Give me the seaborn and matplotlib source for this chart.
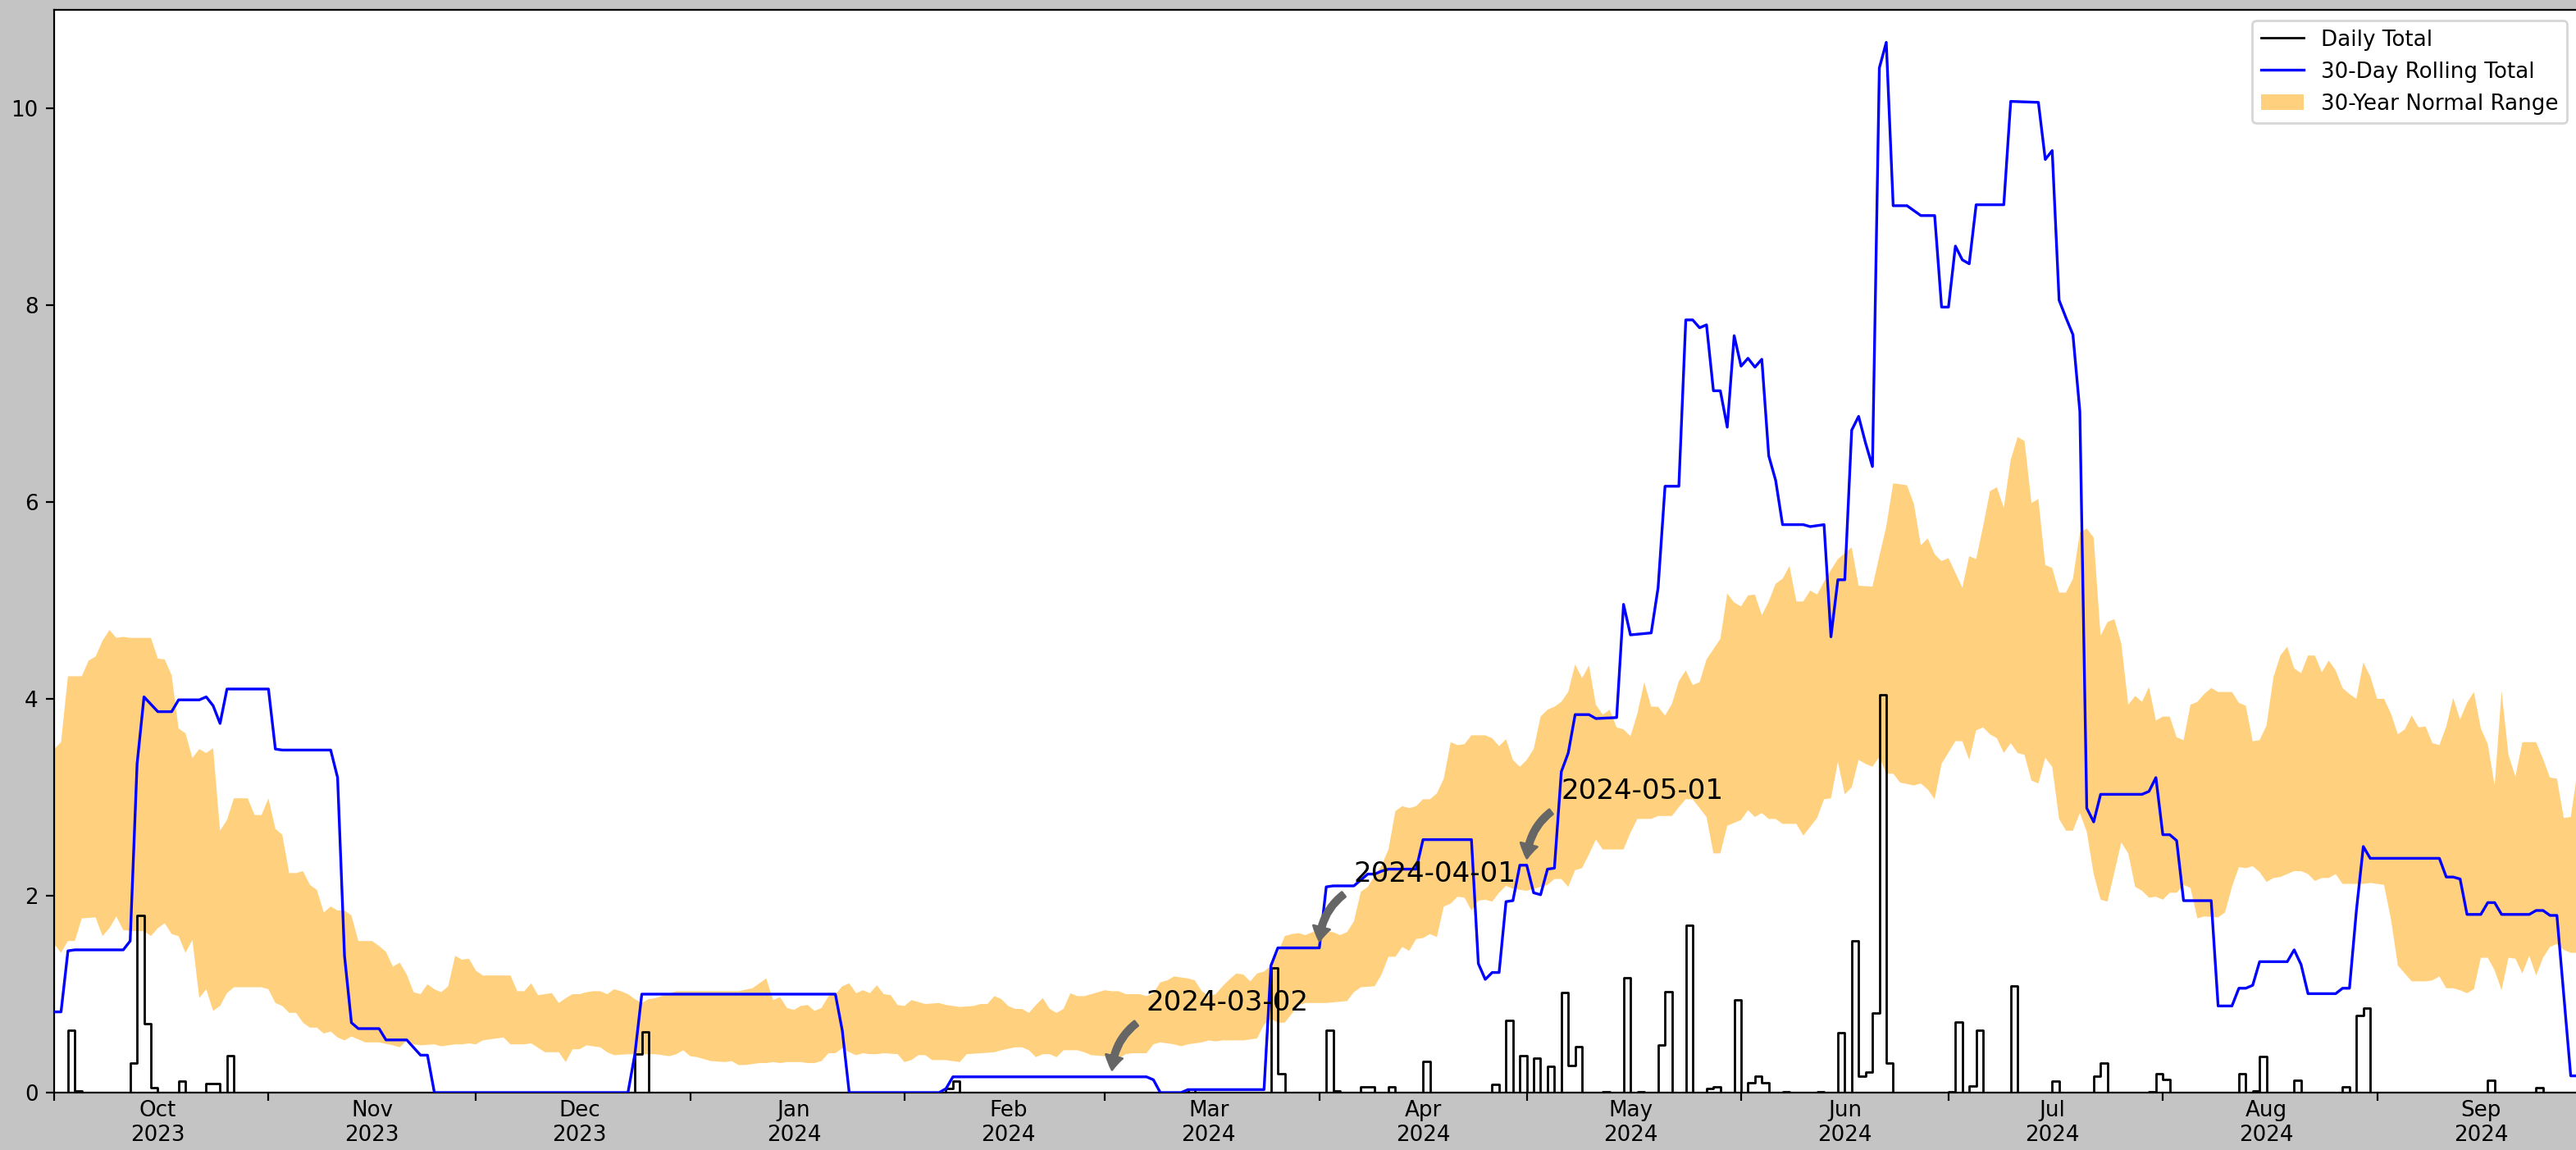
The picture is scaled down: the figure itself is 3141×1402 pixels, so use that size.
import numpy as np
import pandas as pd
import matplotlib
matplotlib.use("Agg")
import matplotlib.pyplot as plt
import matplotlib.dates as mdates
import seaborn as sns

# ---------------- data (days counted from 2023-10-01) ----------------
START = "2023-10-01"
END = "2024-09-30"

# daily precipitation on wet days
rain_day = [2, 3, 11, 12, 13, 14, 18, 22, 23, 25, 84, 85, 129, 130, 164, 176, 177,
            184, 185, 189, 190, 193, 198, 208, 210, 212, 214, 216, 218, 219, 220, 224,
            227, 229, 232, 233, 236, 239, 240, 243, 245, 246, 247, 250, 255, 258, 260,
            261, 262, 263, 264, 265, 274, 275, 277, 278, 283, 289, 295, 296, 303, 304,
            305, 316, 318, 319, 324, 331, 333, 334, 352, 359]
rain_amt = [0.63, 0.02, 0.30, 1.80, 0.70, 0.05, 0.12, 0.09, 0.09, 0.375, 0.39, 0.62,
            0.04, 0.12, 0.03, 1.265, 0.19,
            0.633, 0.02, 0.06, 0.06, 0.06, 0.318, 0.08, 0.73, 0.373, 0.346, 0.263, 1.02,
            0.274, 0.467, 0.01,
            1.163, 0.01, 0.484, 1.025, 1.698, 0.04, 0.06, 0.945, 0.10, 0.17, 0.10, 0.01,
            0.01, 0.609, 1.54,
            0.17, 0.21, 0.805, 4.04, 0.30, 0.01, 0.72, 0.07, 0.63, 1.08, 0.12, 0.17, 0.30,
            0.01, 0.19,
            0.13, 0.19, 0.02, 0.366, 0.124, 0.06, 0.786, 0.855, 0.124, 0.046]

# 30-day rolling total (change points)
roll_day = [0, 1, 2, 3, 10, 11, 12, 13, 15, 17, 18, 21, 22, 23, 24, 25, 31, 32, 33, 40,
            41, 42, 43, 44, 47, 48, 51, 53, 54, 55, 83, 84, 85, 113, 114, 115, 128, 129,
            130, 158, 159, 160, 163, 164, 175, 176, 177, 183, 184, 185, 188, 190, 191,
            192, 193, 197, 198, 205, 206, 207, 208, 209, 210, 211, 212, 213, 214, 215,
            216, 217, 218, 219, 220, 222, 223, 226, 227, 228, 231, 232, 233, 235, 236,
            237, 238, 239, 240, 241, 242, 243, 244, 245, 246, 247, 248, 249, 250, 253,
            254, 256, 257, 258, 259, 260, 261, 262, 263, 264, 265, 266, 268, 269, 270,
            272, 273, 274, 275, 276, 277, 278, 282, 283, 287, 288, 289, 290, 291, 292,
            293, 294, 295, 296, 302, 303, 304, 305, 306, 307, 308, 312, 313, 315, 316,
            317, 318, 319, 323, 324, 325, 326, 330, 331, 332, 333, 334, 335, 345, 346,
            347, 348, 349, 351, 352, 353, 354, 358, 359, 360, 361, 362, 363, 364, 365]
roll_val = [0.82, 0.82, 1.44, 1.45, 1.45, 1.54, 3.34, 4.02, 3.87, 3.87, 3.99, 3.99, 4.02,
            3.93, 3.75, 4.10, 4.10, 3.49, 3.48, 3.48,
            3.20, 1.39, 0.71, 0.65, 0.65, 0.535, 0.535, 0.38, 0.38, 0.0, 0.0, 0.39, 1.0,
            1.0, 0.63, 0.0, 0.0, 0.04,
            0.16, 0.16, 0.13, 0.0, 0.0, 0.03, 0.03, 1.29, 1.47, 1.47, 2.09, 2.10, 2.10,
            2.22, 2.22,
            2.25, 2.27, 2.27, 2.57, 2.57, 1.31, 1.15, 1.22, 1.22, 1.94, 1.95, 2.31, 2.31,
            2.03, 2.01,
            2.27, 2.28, 3.26, 3.45, 3.84, 3.84, 3.80, 3.81, 4.96, 4.65, 4.67, 5.13, 6.16,
            6.16, 7.85,
            7.85, 7.77, 7.80, 7.13, 7.13, 6.76, 7.69, 7.38, 7.46, 7.37, 7.45, 6.47, 6.22,
            5.77, 5.77,
            5.75, 5.77, 4.63, 5.21, 5.21, 6.73, 6.87, 6.60, 6.36, 10.41, 10.67, 9.01, 9.01,
            8.96, 8.91,
            8.91, 7.98, 7.98, 8.60, 8.46, 8.42, 9.02, 9.02, 10.07, 10.06, 9.48, 9.57, 8.05,
            7.87, 7.70,
            6.92, 2.89, 2.75, 3.03, 3.03, 3.06, 3.20, 2.62, 2.62, 2.56, 1.95, 1.95, 0.88,
            0.88, 1.06,
            1.06, 1.09, 1.33, 1.33, 1.45, 1.30, 1.005, 1.005, 1.06, 1.06, 1.85, 2.50, 2.38,
            2.38, 2.19,
            2.19, 2.17, 1.81, 1.81, 1.93, 1.93, 1.81, 1.81, 1.85, 1.85, 1.80, 1.80, 0.98,
            0.17, 0.17]

# 30-year normal range: upper edge
up_day = [0, 1, 2, 4, 5, 6, 7, 8, 9, 10, 11, 14, 15, 16, 17, 18, 19, 20, 21, 22, 23, 24,
          25, 26, 28, 29, 30, 31, 32, 33, 34, 35, 36, 37, 38, 39, 40, 41, 42, 43, 44, 46,
          47, 48, 49, 50, 51, 52, 53, 54, 55, 56, 57, 58, 59, 60, 61, 62, 66, 67, 68, 69,
          70, 71, 72, 73, 74, 75, 76, 77, 78, 79, 80, 81, 82, 83, 84, 85, 86, 87, 90, 97,
          99, 101, 102, 103, 104, 105, 106, 107, 108, 109, 110, 111, 112, 113, 114, 115,
          116, 117, 118, 119, 120, 121, 122, 123, 124, 126, 128, 129, 131, 133, 134, 135,
          136, 137, 138, 139, 140, 141, 142, 143, 144, 145, 146, 147, 148, 149, 150, 152,
          153, 154, 155, 157, 158, 159, 160, 161, 162, 163, 164, 165, 166, 167, 168, 169,
          170, 171, 172, 173, 174, 175, 176, 177, 178, 179, 180, 181, 182, 183, 185, 186,
          187, 188, 189, 190, 191, 192, 193, 194, 195, 196, 197, 198, 199, 200, 201, 202,
          203, 204, 205, 207, 208, 209, 210, 211, 212, 213, 214, 215, 216, 217, 218, 219,
          220, 221, 222, 223, 224, 225, 226, 227, 228, 229, 230, 231, 232, 233, 234, 235,
          236, 237, 238, 239, 241, 242, 243, 244, 245, 246, 247, 248, 249, 250, 251, 252,
          253, 254, 255, 256, 257, 258, 260, 261, 263, 264, 265, 266, 268, 269, 270, 271,
          272, 273, 274, 275, 276, 277, 278, 279, 280, 281, 282, 283, 284, 285, 286, 287,
          288, 289, 290, 291, 292, 293, 294, 295, 296, 297, 298, 299, 300, 301, 302, 303,
          304, 305, 306, 307, 308, 309, 310, 311, 312, 313, 315, 316, 317, 318, 319, 320,
          321, 322, 323, 324, 325, 326, 327, 328, 329, 330, 331, 332, 333, 334, 335, 336,
          337, 338, 339, 340, 341, 342, 343, 344, 345, 346, 347, 348, 349, 350, 351, 352,
          353, 354, 355, 356, 357, 359, 360, 361, 362, 363, 364, 365]
up_val = [3.49, 3.56, 4.23, 4.23, 4.39, 4.43, 4.59, 4.70, 4.62, 4.63, 4.62, 4.62, 4.41,
          4.40, 4.24, 3.70, 3.65, 3.40, 3.49, 3.45, 3.50, 2.66,
          2.77, 2.99, 2.99, 2.82, 2.82, 2.99, 2.68, 2.62, 2.23, 2.23, 2.25, 2.11, 2.06,
          1.83, 1.89, 1.85, 1.85, 1.80, 1.54, 1.54,
          1.49, 1.43, 1.28, 1.32, 1.20, 1.02, 1.00, 1.10, 1.05, 1.02, 1.08, 1.39, 1.35,
          1.36, 1.24, 1.19, 1.19, 1.03, 1.03, 1.11,
          0.99, 1.00, 1.01, 0.91, 0.96, 1.00, 1.00, 1.02, 1.03, 1.03, 1.00, 1.05, 1.03,
          1.00, 0.95, 0.91, 0.95, 0.96, 1.03, 1.03,
          1.03, 1.06, 1.11, 1.16, 0.94, 0.97, 0.86, 0.84, 0.88, 0.89, 0.83, 0.86, 0.98,
          1.00, 1.08, 1.11,
          1.01, 1.04, 1.01, 1.09, 1.00, 0.99, 0.89, 0.88, 0.94, 0.90, 0.91, 0.89, 0.87,
          0.88, 0.90, 0.90,
          0.98, 0.95, 0.88, 0.85, 0.85, 0.81, 0.89, 0.96, 0.85, 0.81, 0.85, 1.01, 0.98,
          0.98, 1.00, 1.04,
          1.03, 1.03, 1.00, 1.00, 0.98, 1.01, 1.12, 1.14, 1.18, 1.17, 1.16, 1.14, 1.03,
          0.98, 1.00, 1.08,
          1.15, 1.21, 1.20, 1.13, 1.21, 1.23, 1.29, 1.42, 1.59, 1.61, 1.62, 1.60, 1.63,
          1.64, 1.63, 1.60,
          1.63, 1.74, 2.04, 2.09, 2.20, 2.31, 2.47, 2.86, 2.91, 2.89, 2.91, 2.98, 2.98,
          3.04, 3.19, 3.56,
          3.53, 3.54, 3.63, 3.63, 3.60, 3.52, 3.59, 3.38, 3.31, 3.38, 3.49, 3.82, 3.89,
          3.92, 3.97, 4.07,
          4.35, 4.21, 4.34, 3.94, 3.84, 3.89, 3.71, 3.69, 3.62, 3.85, 4.17, 3.92, 3.92,
          3.83, 3.95, 4.18,
          4.29, 4.14, 4.17, 4.40, 4.61, 5.07, 4.98, 4.94, 5.05, 5.06, 4.85, 4.99, 5.17,
          5.22, 5.35, 4.99,
          4.99, 5.10, 5.06, 5.19, 5.31, 5.42, 5.54, 5.15, 5.14, 5.45, 5.75, 6.19, 6.17,
          5.98, 5.56, 5.63,
          5.47, 5.40, 5.43, 5.28, 5.13, 5.45, 5.42, 5.75, 6.11, 6.15, 5.94, 6.43, 6.66,
          6.62, 5.99, 6.03,
          5.36, 5.33, 5.08, 5.08, 5.22, 5.69, 5.73, 5.64, 4.64, 4.78, 4.81, 4.56, 3.94,
          4.03, 3.97, 4.12,
          3.78, 3.82, 3.82, 3.61, 3.58, 3.94, 3.97, 4.05, 4.11, 4.07, 4.07, 3.96, 3.93,
          3.57, 3.58, 3.73,
          4.22, 4.44, 4.53, 4.31, 4.26, 4.44, 4.44, 4.27, 4.39, 4.29, 4.11, 4.05, 4.00,
          4.37, 4.23, 4.00,
          4.00, 3.85, 3.64, 3.69, 3.83, 3.71, 3.72, 3.55, 3.53, 3.72, 4.01, 3.79, 3.96,
          4.07, 3.70, 3.54,
          3.12, 4.08, 3.43, 3.21, 3.56, 3.56, 3.39, 3.20, 3.19, 2.79, 2.80, 3.27]

# 30-year normal range: lower edge
lo_day = [0, 1, 2, 3, 4, 6, 7, 8, 9, 10, 12, 13, 14, 15, 16, 17, 18, 19, 20, 21, 22, 23,
          24, 25, 26, 30, 31, 32, 33, 34, 35, 36, 37, 38, 39, 40, 41, 42, 43, 44, 45, 47,
          49, 50, 51, 52, 53, 55, 56, 58, 59, 60, 61, 62, 63, 65, 66, 68, 69, 71, 73, 74,
          75, 76, 77, 79, 80, 81, 83, 87, 89, 90, 91, 92, 93, 95, 97, 98, 99, 100, 102,
          103, 104, 105, 106, 108, 109, 110, 111, 112, 113, 114, 115, 116, 117, 118, 119,
          120, 122, 123, 124, 125, 126, 127, 129, 131, 132, 136, 137, 139, 140, 141, 142,
          143, 144, 145, 146, 148, 149, 150, 152, 154, 155, 156, 158, 159, 160, 162, 163,
          164, 166, 167, 168, 169, 172, 173, 174, 175, 176, 177, 178, 179, 180, 181, 183,
          184, 187, 188, 189, 191, 192, 193, 194, 195, 196, 197, 198, 199, 200, 201, 202,
          203, 204, 205, 206, 207, 208, 209, 210, 211, 213, 215, 216, 217, 218, 219, 220,
          221, 222, 223, 224, 227, 228, 229, 231, 232, 234, 235, 236, 237, 238, 239, 240,
          241, 242, 243, 244, 245, 246, 247, 248, 249, 250, 252, 253, 254, 255, 256, 257,
          258, 259, 260, 261, 262, 263, 264, 265, 266, 267, 269, 270, 271, 272, 273, 275,
          276, 277, 278, 279, 280, 281, 282, 283, 284, 285, 286, 287, 288, 289, 290, 291,
          292, 293, 294, 295, 296, 297, 298, 299, 300, 301, 302, 303, 304, 305, 306, 307,
          308, 309, 310, 311, 313, 314, 315, 316, 317, 318, 319, 320, 321, 322, 323, 324,
          325, 326, 327, 328, 329, 330, 331, 334, 335, 337, 338, 339, 340, 341, 343, 344,
          345, 346, 347, 348, 349, 350, 351, 352, 353, 354, 355, 356, 357, 358, 359, 360,
          361, 362, 363, 364, 365]
lo_val = [1.51, 1.42, 1.54, 1.54, 1.77, 1.78, 1.59, 1.67, 1.79, 1.65, 1.64, 1.64, 1.59,
          1.67, 1.72, 1.61, 1.59, 1.42, 1.55, 0.96, 1.05, 0.83,
          0.88, 1.01, 1.07, 1.07, 1.05, 0.91, 0.88, 0.81, 0.81, 0.71, 0.66, 0.66, 0.60,
          0.62, 0.56, 0.53, 0.57, 0.54, 0.51, 0.51,
          0.48, 0.46, 0.53, 0.49, 0.48, 0.49, 0.47, 0.49, 0.49, 0.50, 0.49, 0.53, 0.54,
          0.56, 0.49, 0.49, 0.50, 0.41, 0.41, 0.31,
          0.44, 0.44, 0.48, 0.46, 0.41, 0.38, 0.39, 0.39, 0.37, 0.39, 0.43, 0.37, 0.36,
          0.32, 0.31, 0.32, 0.28, 0.28, 0.30,
          0.30, 0.31, 0.30, 0.31, 0.31, 0.30, 0.30, 0.32, 0.40, 0.40, 0.45, 0.41, 0.38,
          0.40, 0.39, 0.39,
          0.40, 0.39, 0.31, 0.33, 0.38, 0.38, 0.33, 0.33, 0.31, 0.39, 0.41, 0.43, 0.46,
          0.46, 0.43, 0.36,
          0.39, 0.39, 0.36, 0.43, 0.43, 0.41, 0.38, 0.37, 0.35, 0.39, 0.40, 0.40, 0.49,
          0.51, 0.49, 0.47,
          0.49, 0.51, 0.53, 0.52, 0.53, 0.53, 0.54, 0.55, 0.69, 0.75, 0.71, 0.71, 0.80,
          0.89, 0.91, 0.91,
          0.91, 0.93, 1.02, 1.07, 1.08, 1.20, 1.38, 1.38, 1.48, 1.44, 1.56, 1.57, 1.61,
          1.58, 1.89, 1.92,
          1.99, 1.98, 1.85, 1.95, 1.96, 1.94, 2.03, 2.10, 2.07, 2.05, 2.09, 2.11, 2.17,
          2.17, 2.09, 2.26,
          2.28, 2.42, 2.57, 2.47, 2.47, 2.64, 2.78, 2.78, 2.81, 2.81, 2.90, 2.98, 2.98,
          2.89, 2.80, 2.43,
          2.43, 2.71, 2.74, 2.77, 2.87, 2.80, 2.84, 2.78, 2.78, 2.73, 2.73, 2.61, 2.70,
          2.79, 2.98, 2.99,
          3.36, 3.03, 3.10, 3.38, 3.34, 3.31, 3.41, 3.24, 3.24, 3.15, 3.12, 3.14, 3.08,
          2.98, 3.34, 3.57,
          3.57, 3.38, 3.68, 3.71, 3.64, 3.60, 3.45, 3.55, 3.45, 3.43, 3.17, 3.14, 3.40,
          3.31, 2.78, 2.66,
          2.66, 2.84, 2.65, 2.22, 1.96, 1.94, 2.24, 2.54, 2.43, 2.09, 2.05, 1.98, 1.99,
          1.96, 2.03, 2.03,
          2.11, 2.08, 1.77, 1.79, 1.78, 1.83, 2.09, 2.29, 2.28, 2.30, 2.24, 2.14, 2.18,
          2.19, 2.22, 2.25,
          2.25, 2.22, 2.15, 2.18, 2.18, 2.22, 2.12, 2.12, 2.13, 2.11, 1.76, 1.29, 1.21,
          1.13, 1.13, 1.14,
          1.18, 1.06, 1.06, 1.04, 1.01, 1.05, 1.37, 1.37, 1.24, 1.04, 1.37, 1.36, 1.21,
          1.39, 1.19, 1.37,
          1.48, 1.51, 1.45, 1.42, 1.42]

annot_dates = ["2024-03-02", "2024-04-01", "2024-05-01"]

# ---------------- figure ----------------
W, H, DPI = 3141, 1402, 200
fig = plt.figure(figsize=(W / DPI, H / DPI), dpi=DPI, facecolor="#c4c4c4")
ax = fig.add_axes([66 / W, 70 / H, 3077 / W, 1320 / H])
ax.set_facecolor("white")

base = pd.Timestamp(START)
def to_dates(days):
    return base + pd.to_timedelta(np.asarray(days), unit="D")

all_days = pd.date_range(START, END, freq="D")
daily = np.zeros(len(all_days))
daily[np.asarray(rain_day)] = rain_amt

sns.lineplot(x=all_days, y=daily, drawstyle="steps-post", color="black",
             linewidth=1.0, label="Daily Total", ax=ax, zorder=3)
sns.lineplot(x=to_dates(roll_day), y=roll_val, color="blue", linewidth=1.2,
             label="30-Day Rolling Total", ax=ax, zorder=4)

poly_x = np.concatenate([mdates.date2num(to_dates(up_day)),
                         mdates.date2num(to_dates(lo_day))[::-1]])
poly_y = np.concatenate([up_val, lo_val[::-1]])
ax.fill(poly_x, poly_y, color="orange", alpha=0.5, linewidth=0,
        label="30-Year Normal Range", zorder=1)

# annotations
for ds in annot_dates:
    d = (pd.Timestamp(ds) - base).days
    yv = float(np.interp(d, roll_day, roll_val))
    ax.annotate(ds, xy=(pd.Timestamp(ds), yv),
                xytext=(pd.Timestamp(ds) + pd.Timedelta(days=5), yv + 0.67),
                fontsize=12.3,
                arrowprops=dict(facecolor="#666666", edgecolor="#666666", shrink=0.1,
                                width=2.6, headwidth=7.5, headlength=6,
                                connectionstyle="arc3,rad=0.3"),
                zorder=5)

ax.set_xlim(pd.Timestamp(START), pd.Timestamp(END))
ax.set_ylim(0, 11.0)
ax.set_yticks([0, 2, 4, 6, 8, 10])
ax.xaxis.set_major_locator(mdates.MonthLocator())
ax.xaxis.set_major_formatter(plt.NullFormatter())
ax.xaxis.set_minor_locator(mdates.MonthLocator(bymonthday=16))
ax.xaxis.set_minor_formatter(mdates.DateFormatter("%b\n%Y"))
ax.tick_params(axis="x", which="minor", length=0, labelsize=9.4)
ax.tick_params(axis="x", which="major", length=3.5)
ax.tick_params(axis="y", labelsize=9.4)
for lab in ax.xaxis.get_minorticklabels():
    lab.set_horizontalalignment("center")
ax.set_xlabel("")
ax.set_ylabel("")

ax.legend(loc="upper right", fontsize=9.4)

fig.savefig("out.png", dpi=DPI, facecolor=fig.get_facecolor())
